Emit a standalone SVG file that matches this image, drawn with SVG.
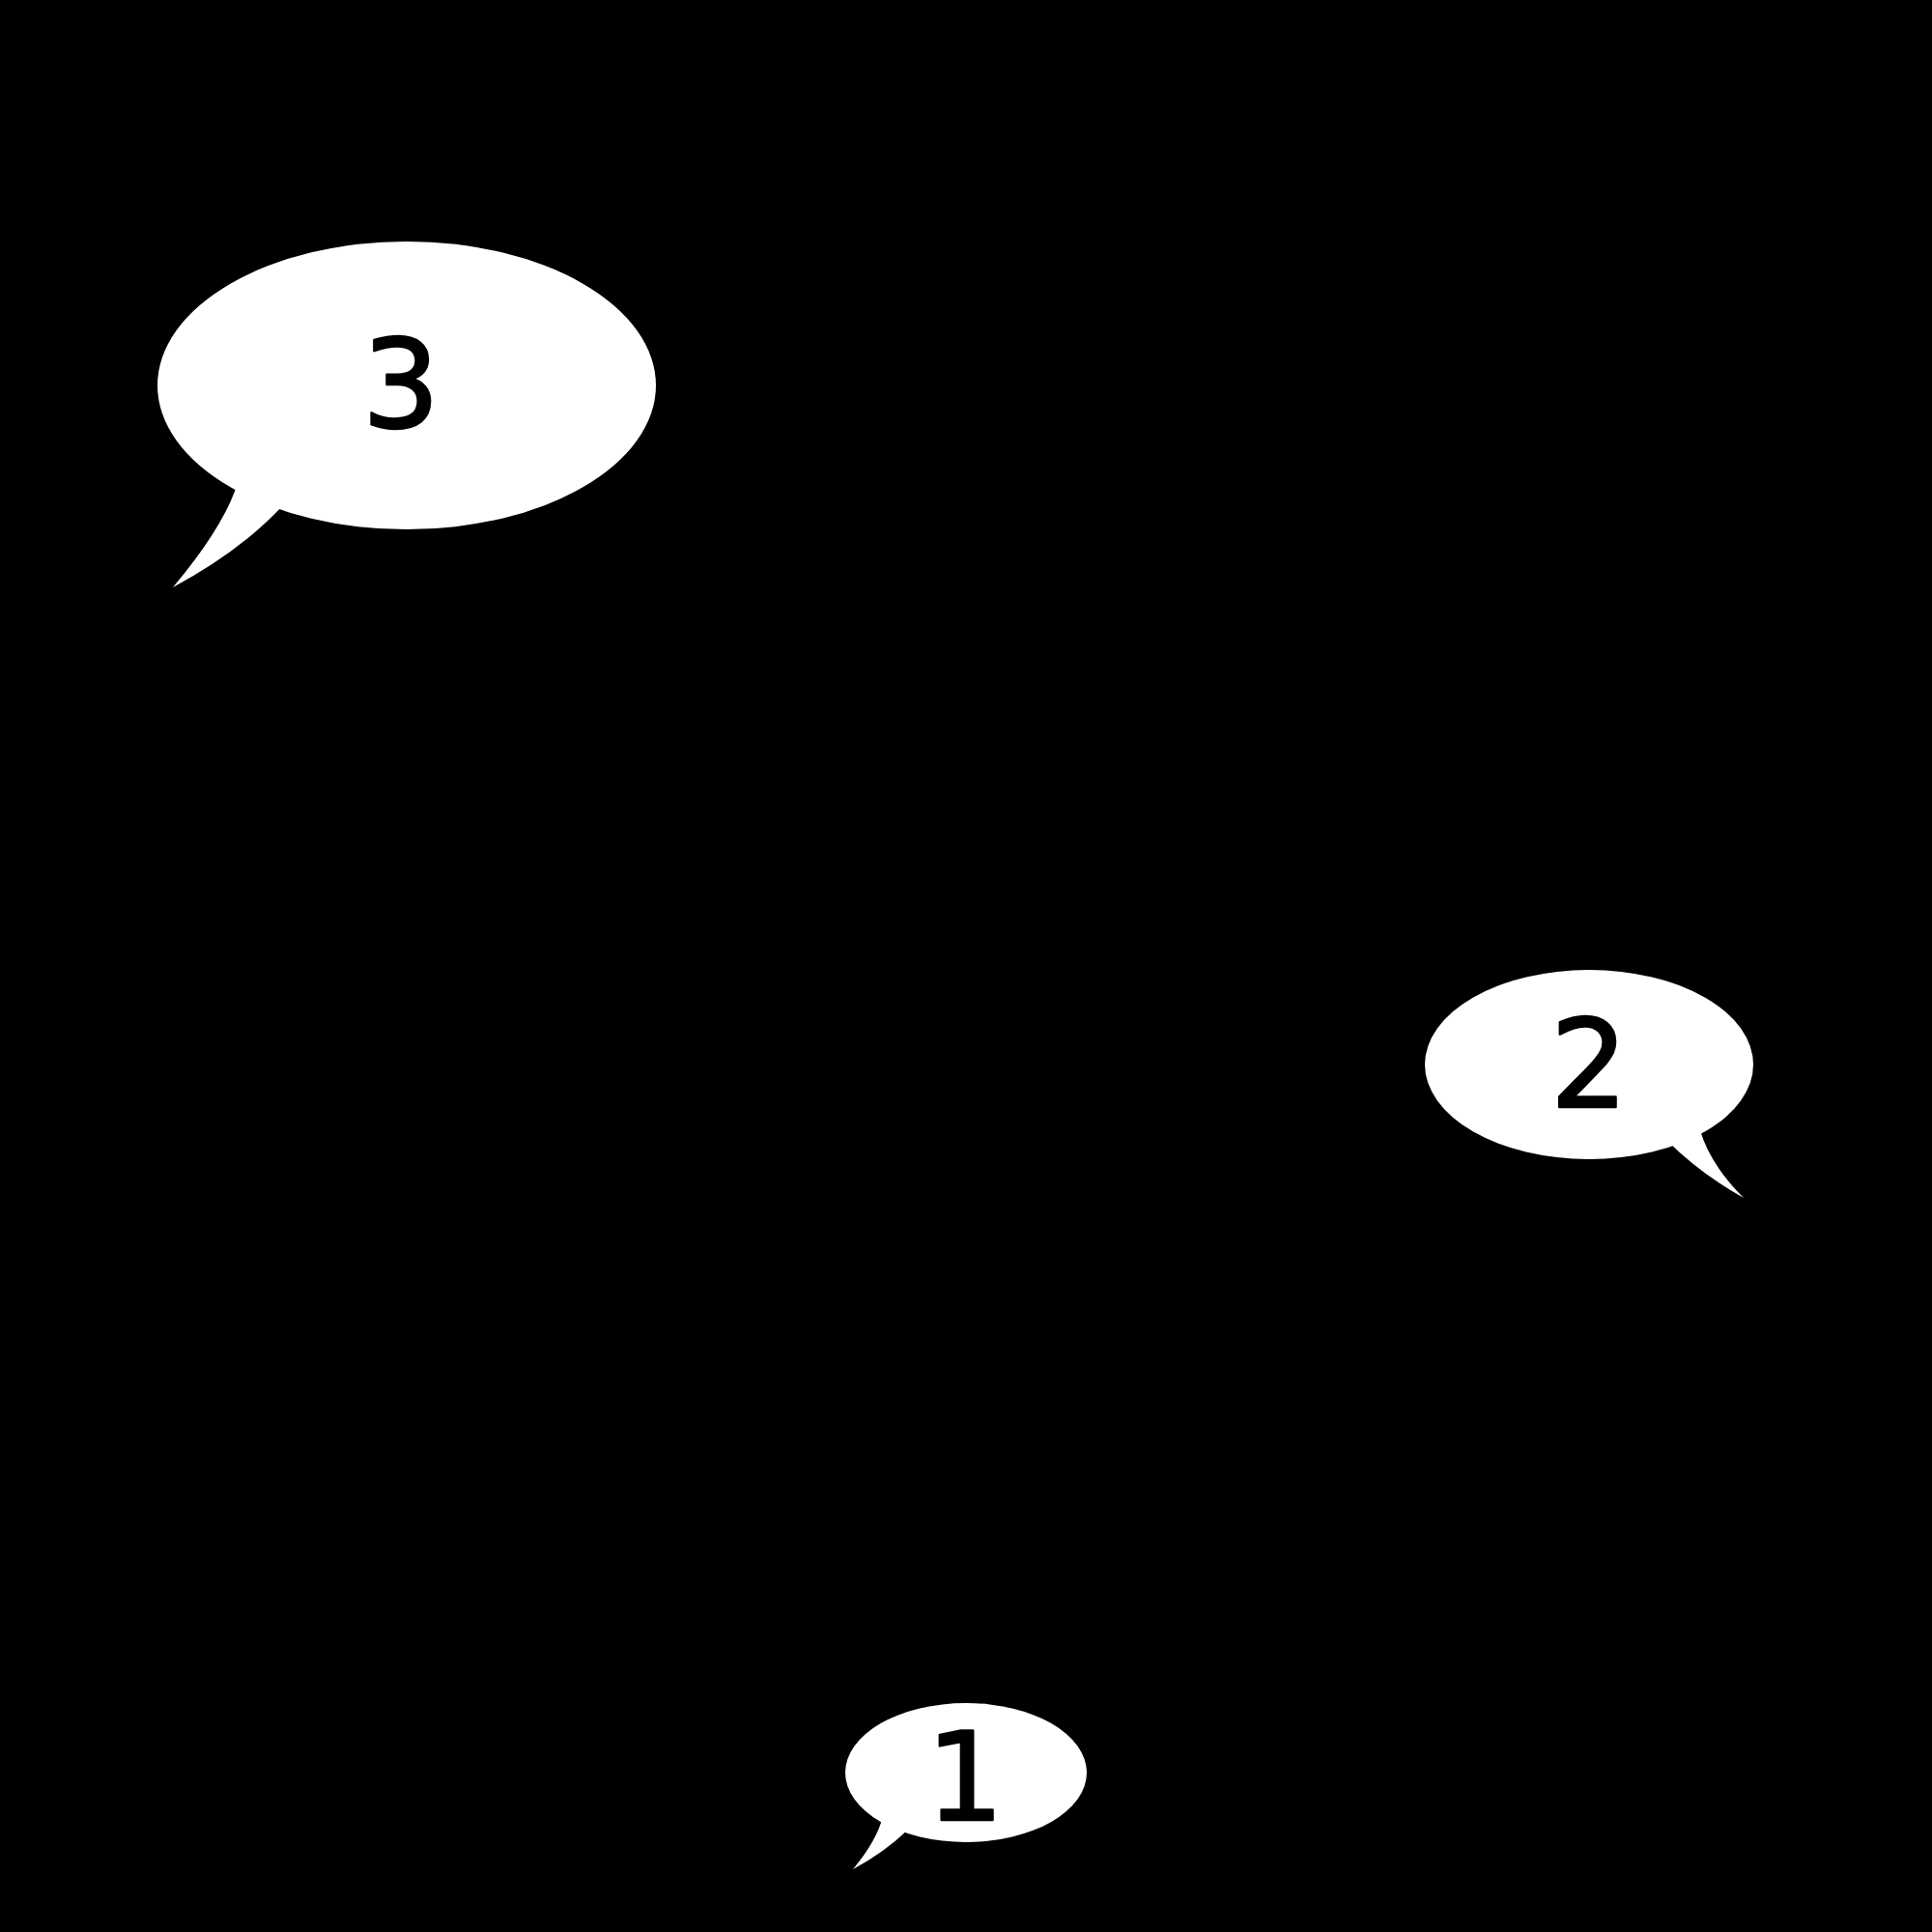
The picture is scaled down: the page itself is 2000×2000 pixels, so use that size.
<svg xmlns="http://www.w3.org/2000/svg" width="2000" height="2000" viewBox="0 0 2000 2000">
<style>
.bubble{fill:#ffffff;stroke:none}
.num{font-family:"DejaVu Sans","Liberation Sans",sans-serif;font-size:126px;fill:#000000;stroke:#000000;stroke-width:2.5;stroke-linejoin:round;text-anchor:middle}
</style>
<rect width="2000" height="2000" fill="#000000"/>
<g id="bubble3">
<ellipse class="bubble" cx="421" cy="399" rx="258" ry="149"/>
<path class="bubble" d="M246,500 Q232,545 179,608 Q250,570 294,522 Z"/>
<text class="num" x="415" y="442">3</text>
</g>
<g id="bubble2">
<ellipse class="bubble" cx="1645" cy="1102" rx="170" ry="98"/>
<path class="bubble" d="M1725,1180 Q1760,1215 1805,1240 Q1770,1205 1760,1170 Z"/>
<text class="num" x="1645" y="1146">2</text>
</g>
<g id="bubble1">
<ellipse class="bubble" cx="1000" cy="1835" rx="125" ry="72"/>
<path class="bubble" d="M914,1880 Q908,1905 883,1935 Q915,1918 940,1894 Z"/>
<text class="num" x="999" y="1884">1</text>
</g>
<g id="connectors"></g>
</svg>
